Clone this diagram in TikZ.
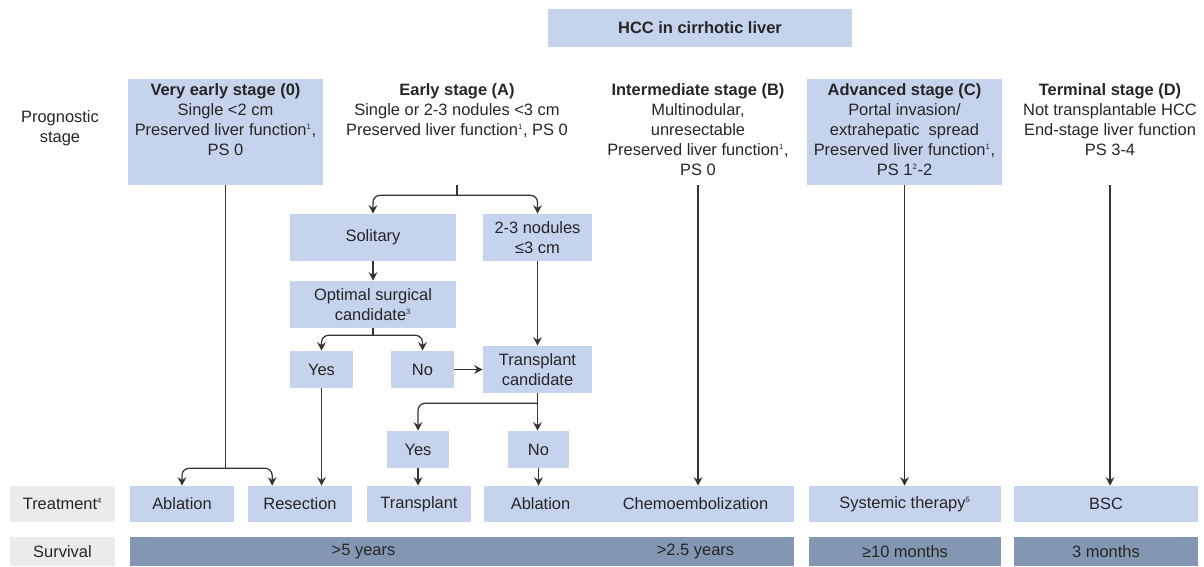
\documentclass[tikz,border=0pt]{standalone}
\usepackage{fontspec}
\setmainfont{Liberation Sans}
\usetikzlibrary{positioning,arrows.meta}
\definecolor{boxBlue}{RGB}{198,211,236}
\definecolor{barBlue}{RGB}{132,151,178}
\definecolor{lblGray}{RGB}{235,235,235}
\definecolor{inkGray}{RGB}{38,38,38}
\definecolor{lineGray}{RGB}{51,51,51}
\newcommand{\fn}[1]{\textsuperscript{\fontsize{5.5}{6}\selectfont #1}}

\begin{document}
\begin{tikzpicture}[x=0.025cm, y=-0.025cm]
  \tikzset{
    boxsize/.style 2 args={minimum width=#1*0.025cm, minimum height=#2*0.025cm},
    bluebox/.style={fill=boxBlue, draw=none, inner sep=0pt, align=center},
    graybox/.style={fill=lblGray, draw=none, inner sep=0pt, align=center},
    barbox/.style={fill=barBlue, draw=none, inner sep=0pt},
    ghostbox/.style={draw=none, inner sep=0pt},
    stagetext/.style={inner sep=0pt, align=center, font=\fontsize{11.7}{14.2}\selectfont},
    normal line/.style={draw, line width=0.85pt, lineGray},
    normal arrow/.style={normal line, -{Stealth[length=6pt,width=6pt]}},
    branch/.style={normal arrow, rounded corners=5pt}
  }
  \tikzstyle{every node}=[text=inkGray, font=\fontsize{11.7}{14}\selectfont]

  \useasboundingbox (0,0) rectangle (1204,566);

  \node[bluebox, boxsize={304}{38}] (hcc) at (700,28) {\textbf{HCC in cirrhotic liver}};
  \node[stagetext] (prog) at (60,128) {Prognostic\\stage};

  % stage columns
  \node[bluebox, boxsize={195}{106}] (s0) at (225.5,132) {};
  \node[ghostbox, boxsize={154}{106}] (sA) at (457,132) {};
  \node[ghostbox, boxsize={196}{106}] (sB) at (698,132) {};
  \node[bluebox, boxsize={195}{106}] (sC) at (904.5,132) {};
  \node[ghostbox, boxsize={184}{106}] (sD) at (1110,132) {};

  \node[stagetext, below=3.5pt of s0.north] (t0) {\textbf{Very early stage (0)}\\Single <2 cm\\Preserved liver function\fn{1},\\PS 0};
  \node[stagetext, below=3.5pt of sA.north] (tA) {\textbf{Early stage (A)}\\Single or 2-3 nodules <3 cm\\Preserved liver function\fn{1}, PS 0};
  \node[stagetext, below=3.5pt of sB.north] (tB) {\textbf{Intermediate stage (B)}\\Multinodular,\\unresectable\\Preserved liver function\fn{1},\\PS 0};
  \node[stagetext, below=3.5pt of sC.north] (tC) {\textbf{Advanced stage (C)}\\Portal invasion/\\extrahepatic\ \ spread\\Preserved liver function\fn{1},\\PS 1\fn{2}-2};
  \node[stagetext, below=3.5pt of sD.north] (tD) {\textbf{Terminal stage (D)}\\Not transplantable HCC\\End-stage liver function\\PS 3-4};

  % early stage tree
  \node[bluebox, boxsize={166}{47}] (sol) at (373,237.5) {Solitary};
  \node[bluebox, boxsize={109}{47}] (nod) at (537.5,237.5) {2-3 nodules\\≤3 cm};
  \node[bluebox, boxsize={166}{47}] (opt) at (373,304.5) {Optimal surgical\\candidate\fn{3}};
  \node[bluebox, boxsize={63}{37}] (yes1) at (321.5,369.5) {Yes};
  \node[bluebox, boxsize={63}{37}] (no1) at (422.5,369.5) {No};
  \node[bluebox, boxsize={109}{47}] (tc) at (537.5,369.5) {Transplant\\candidate};
  \node[bluebox, boxsize={62}{37}] (yes2) at (418,449.5) {Yes};
  \node[bluebox, boxsize={61}{37}] (no2) at (538.5,449.5) {No};

  % treatment row
  \node[graybox, boxsize={105}{36}] (lblT) at (62.5,504) {Treatment\fn{4}};
  \node[bluebox, boxsize={104}{36}] (abl1) at (182,504) {Ablation};
  \node[bluebox, boxsize={104}{36}] (res) at (300,504) {Resection};
  \node[bluebox, boxsize={104}{36}] (tra) at (419,504) {Transplant};
  \node[bluebox, boxsize={114}{36}] (abl2) at (540.5,504) {Ablation};
  \node[bluebox, boxsize={197}{36}] (chemo) at (695.5,504) {Chemoembolization};
  \node[bluebox, boxsize={192}{36}] (sys) at (905,504) {Systemic therapy\fn{5}};
  \node[bluebox, boxsize={184}{36}] (bsc) at (1106,504) {BSC};

  % survival row
  \node[graybox, boxsize={105}{29}] (lblS) at (62.5,551.5) {Survival};
  \node[barbox, boxsize={468}{29}] (sv5) at (363.5,551.5) {>5 years};
  \node[barbox, boxsize={197}{29}] (sv25) at (695.5,551.5) {>2.5 years};
  \node[barbox, boxsize={192}{29}] (sv10) at (905,551.5) {≥10 months};
  \node[barbox, boxsize={184}{29}] (sv3) at (1106,551.5) {3 months};

  % very early stage
  \path[normal line] (s0.south) -- ++(0,283) coordinate (b0);
  \path[branch] (b0) -| (abl1.north);
  \path[branch] (b0) -| ([xshift=-19.8pt]res.north);
  \path[normal arrow] (yes1.south) -- (yes1.south |- res.north);

  % early stage
  \path[normal line] (sA.south) -- ++(0,10) coordinate (bA);
  \path[branch] (bA) -| (sol.north);
  \path[branch] (bA) -| (nod.north);
  \path[normal arrow] (sol) -- (opt);
  \path[normal line] (opt.south) -- ++(0,7) coordinate (bO);
  \path[branch] (bO) -| (yes1.north);
  \path[branch] (bO) -| (no1.north);
  \path[normal arrow] (no1) -- (tc);
  \path[normal arrow] (nod) -- (tc);
  \path[normal line] (tc.south) -- ++(0,10) coordinate (bT);
  \path[branch] (bT) -| (yes2.north);
  \path[normal arrow] (tc.south) -- (tc.south |- no2.north);
  \path[normal arrow] (yes2.south) -- (yes2.south |- tra.north);
  \path[normal arrow] (no2.south) -- (no2.south |- abl2.north);

  % other stages
  \path[normal arrow] (sB.south) -- (sB.south |- chemo.north);
  \path[normal arrow] (sC.south) -- (sC.south |- sys.north);
  \path[normal arrow] (sD.south) -- (sD.south |- bsc.north);
\end{tikzpicture}
\end{document}
